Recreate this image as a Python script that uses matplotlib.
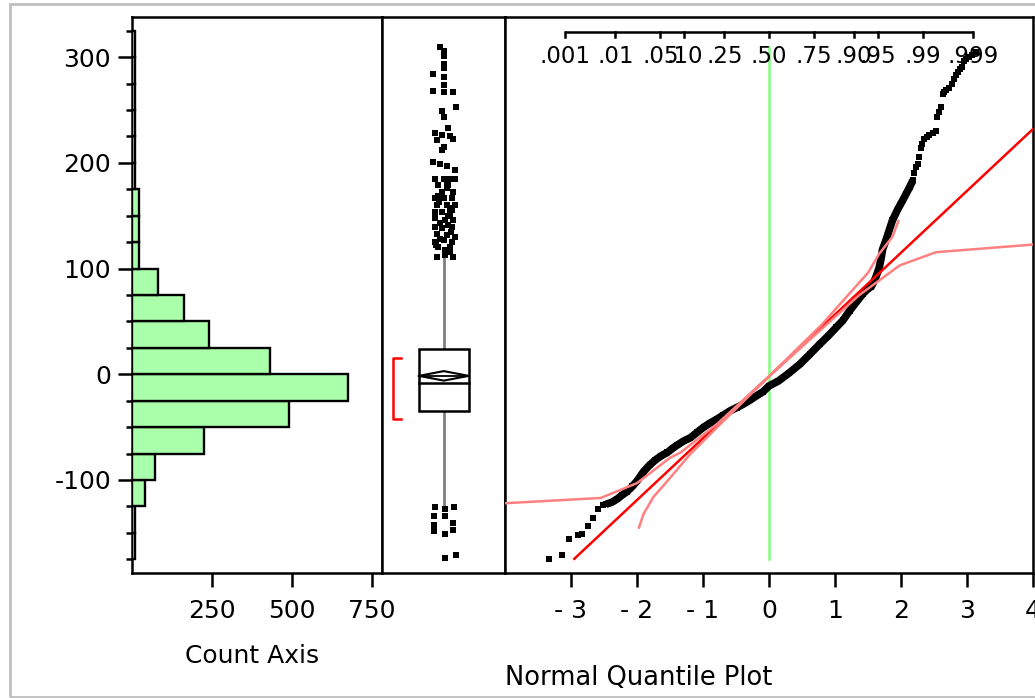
import numpy as np
import matplotlib
matplotlib.use("Agg")
import matplotlib.pyplot as plt
from matplotlib.patches import Rectangle
from matplotlib.ticker import MultipleLocator
import matplotlib.transforms as mtransforms
from statistics import NormalDist

plt.rcParams['font.family'] = ['DejaVu Sans']

# ---------------- data ----------------
# histogram (bin width 25)
bin_lefts = [-175, -150, -125, -100, -75, -50, -25, 0, 25, 50, 75, 100, 125, 150,
             175, 200, 225, 250, 275, 300]
bin_counts = [8, 10, 41, 73, 225, 491, 676, 432, 241, 163, 80, 23, 23, 23,
              10, 9, 9, 8, 8, 8]
bin_width = 25
count_ticks = [250, 500, 750]
y_major = [-100, 0, 100, 200, 300]
y_labels = ['-100', '0', '100', '200', '300']

# box plot summary
q1, q3, median = -35, 24, -8
mean, mean_ci = -1.5, 4.5
whisk_lo, whisk_hi = -124, 111
short_half = (-42, 15)

# outliers: values and horizontal jitter
out_vals = [310, 306, 301, 294, 290, 284, 281, 274, 268, 267, 267.5, 253, 249, 243, 233,
            228, 226, 225, 222, 223, 215, 212, 200.5, 198.6, 197.3, 193,
            185, 185, 185, 185, 179, 179, 172.7, 172.7, 166.4, 166.4, 166.4,
            160, 160, 160, 153.7, 153.7, 152, 147.4, 145.8, 145.8, 139.5, 139.5, 138,
            133, 131.6, 130, 125.3, 125.3, 126.8, 120.6, 120.6, 111, 111, 112.6, 115.8,
            176, 169, 157, 150, 143, 135, 128, 118, 182, 163, 155, 141, 122,
            -125.6, -127.7, -125.6, -134.3, -134.3, -142.3, -140.8, -148.7, -151.4,
            -147.4, -174, -171.3]
out_jit = [-0.057, 0.0, 0.0, 0.013, 0.013, -0.166, 0.013, 0.013, -0.166, 0.013, 0.16, 0.203,
           -0.02, 0.013, 0.078, -0.138, -0.029, 0.106, -0.11, 0.16, 0.0, -0.029, -0.166,
           -0.057, 0.052, 0.187, -0.138, 0.0, 0.106, 0.187, -0.085, 0.078, -0.029, 0.16,
           -0.138, 0.0, 0.133, -0.11, 0.052, 0.187, -0.138, -0.029, 0.106, -0.138, 0.024,
           0.16, -0.138, 0.133, -0.029, -0.11, 0.052, 0.187, -0.138, 0.133, 0.0, -0.085,
           0.106, -0.11, 0.16, 0.024, 0.106,
           0.05, -0.09, 0.1, 0.07, -0.06, 0.12, -0.05, 0.03, 0.05, -0.07, 0.14, 0.08, -0.12,
           -0.138, 0.024, 0.176, -0.149, 0.024, -0.149, 0.16, -0.149, 0.024, 0.16,
           0.024, 0.203]

# normal quantile plot points (normal quantile, value)
qq_z = [-3.33, -3.13, -3.03, -2.90, -2.83, -2.75, -2.66, -2.59, -2.52, -2.47,
        -2.38, -2.30, -2.22, -2.15, -2.07, -2.00, -1.90, -1.81, -1.72, -1.63, -1.54,
        -1.46, -1.39, -1.29, -1.19, -1.09, -0.99, -0.89, -0.79, -0.69, -0.59, -0.49,
        -0.39, -0.29, -0.19, -0.09, 0.00, 0.14, 0.30, 0.47, 0.62, 0.77, 0.90, 1.02,
        1.12, 1.22, 1.32, 1.42, 1.50, 1.55, 1.60, 1.62, 1.67, 1.70, 1.72, 1.77, 1.82,
        1.87, 1.95, 2.03, 2.08, 2.13, 2.18,
        2.20, 2.23, 2.25, 2.27, 2.30, 2.32, 2.35, 2.39, 2.43, 2.48, 2.53, 2.55, 2.57,
        2.60, 2.63, 2.65, 2.68, 2.72, 2.78, 2.80, 2.83, 2.86, 2.90, 2.93,
        2.96, 2.99, 3.03, 3.08, 3.13]
qq_v = [-175, -171, -156, -152, -151, -144, -136, -127, -124, -123,
        -121, -118, -114, -111, -106, -101, -92, -86, -81, -77, -74,
        -70, -67, -63, -60, -55, -50, -46, -42.5, -38.5, -34.6, -31.5,
        -28.3, -24.5, -20.4, -16.5, -11, -6.5, 1, 9.7, 19, 28.6, 36.5, 44.4,
        51, 60, 68, 76, 81, 83, 89, 92, 101, 110, 118, 126.5, 136,
        145.5, 156, 165, 171, 177, 183.4,
        190, 196, 199, 206, 214, 218, 223, 224.5, 226, 228, 230, 243, 248,
        253, 265, 267, 269, 271, 275, 279, 283, 286, 289, 291,
        296, 298, 300, 302, 305]

# normal fit line
fit_mu, fit_sigma = -2, 58.5
fit_z_start = -2.95

# confidence band curves
bandA_z = [-4.0, -2.55, -2.0, -1.5, -1.34, -0.79, 0.0, 0.8, 1.37, 1.98, 2.53, 4.0]
bandA_v = [-122, -117, -103, -79, -74, -47.2, -2, 43, 75, 103, 115.5, 122.7]
bandB_z = [-1.97, -1.9, -1.75, -1.54, -1.2, -0.8, 0.0, 0.8, 1.17, 1.5, 1.67, 1.87, 1.96]
bandB_v = [-145, -132, -116, -101, -76, -51, -2, 47, 73, 96, 114, 130, 145]

prob_labels = ['.001', '.01', '.05', '.10', '.25', '.50', '.75', '.90', '.95', '.99', '.999']
z_ticks = [-3, -2, -1, 0, 1, 2, 3, 4]
z_labels = ['- 3', '- 2', '- 1', '0', '1', '2', '3', '4']

# ---------------- layout ----------------
W, H = 1035, 698
fig = plt.figure(figsize=(W / 100, H / 100), dpi=100)


def rect(x0, x1, y0=17, y1=573):
    return [x0 / W, 1 - y1 / H, (x1 - x0) / W, (y1 - y0) / H]


YLIM = (-188, 338)
ax_h = fig.add_axes(rect(132, 382))
ax_b = fig.add_axes(rect(382, 505))
ax_q = fig.add_axes(rect(505, 1033))

LW = 1.8
for ax in (ax_h, ax_b, ax_q):
    ax.set_ylim(*YLIM)
    for s in ax.spines.values():
        s.set_linewidth(LW)
        s.set_color('black')

FS = 18
# ---- histogram ----
ax_h.barh(bin_lefts, bin_counts, height=bin_width, align='edge', color='#aaffaa',
          edgecolor='black', linewidth=1.7, zorder=3)
ax_h.set_xlim(0, 781)
ax_h.set_xticks(count_ticks)
ax_h.set_xticklabels([str(c) for c in count_ticks], fontsize=FS)
ax_h.set_yticks(y_major)
ax_h.set_yticklabels(y_labels, fontsize=FS)
ax_h.yaxis.set_minor_locator(MultipleLocator(25))
ax_h.tick_params(axis='y', which='major', length=10, width=LW, pad=5)
ax_h.tick_params(axis='y', which='minor', length=4.5, width=LW)
ax_h.tick_params(axis='x', which='major', length=10, width=LW, pad=9)

# ---- box plot ----
ax_b.set_xlim(-1, 1)
ax_b.set_xticks([])
ax_b.set_yticks([])
ax_b.plot([0, 0], [q3, whisk_hi], color='#808080', lw=2, zorder=1)
ax_b.plot([0, 0], [q1, whisk_lo], color='#808080', lw=2, zorder=1)
ax_b.add_patch(Rectangle((-0.40, q1), 0.81, q3 - q1, facecolor='white',
                         edgecolor='black', lw=LW, zorder=2))
ax_b.plot([-0.40, 0.41], [median, median], color='black', lw=LW, zorder=3)
ax_b.plot([-0.40, 0.005, 0.41, 0.005, -0.40],
          [mean, mean + mean_ci, mean, mean - mean_ci, mean], color='black', lw=1.5, zorder=3)
ax_b.plot([-0.40, 0.41], [mean, mean], color='black', lw=1.3, zorder=3)
ax_b.plot([-0.69, -0.82, -0.82, -0.69],
          [short_half[1], short_half[1], short_half[0], short_half[0]],
          color='#ff0000', lw=1.8, zorder=3)
ax_b.plot(out_jit, out_vals, linestyle='none', marker='s', ms=4.3, color='black',
          markeredgewidth=0, zorder=4)

# ---- normal quantile plot ----
ax_q.set_xlim(-4, 4)
ax_q.set_yticks([])
ax_q.set_xticks(z_ticks)
ax_q.set_xticklabels(z_labels, fontsize=FS)
ax_q.tick_params(axis='x', length=10, width=LW, pad=9)

ax_q.plot([0, 0], [min(qq_v), max(out_vals)], color='#80ff80', lw=1.8, zorder=1)
zz = np.array([fit_z_start, 4.0])
ax_q.plot(zz, fit_mu + fit_sigma * zz, color='#ff0000', lw=1.8, zorder=3)
ax_q.plot(bandA_z, bandA_v, color='#ff8080', lw=1.8, zorder=3)
ax_q.plot(bandB_z, bandB_v, color='#ff8080', lw=1.8, zorder=3)

qz = np.array(qq_z)
qv = np.array(qq_v)
dense = (qz >= -2.47) & (qz <= 2.18)
ax_q.plot(qz[dense], qv[dense], color='black', lw=5.5, solid_capstyle='butt', zorder=2)
ax_q.plot(qz, qv, linestyle='none', marker='s', ms=4.6, color='black',
          markeredgewidth=0, zorder=2)

# probability scale inside the panel
blend = mtransforms.blended_transform_factory(ax_q.transData, ax_q.transAxes)
nd = NormalDist()
pz = [nd.inv_cdf(float(p)) for p in prob_labels]
y_line = 1 - 15 / 556
y_tick = 1 - 20 / 556
y_lab = 1 - 46 / 556
ax_q.plot([pz[0], pz[-1]], [y_line, y_line], color='black', lw=LW, transform=blend,
          solid_capstyle='butt', zorder=1)
for z, lab in zip(pz, prob_labels):
    ax_q.plot([z, z], [y_line, y_tick], color='black', lw=LW, transform=blend, zorder=1)
    ax_q.text(z, y_lab, lab, transform=blend, ha='center', va='baseline', fontsize=16.5,
              zorder=1)

# axis titles
fig.text(252 / W, 1 - 663 / H, 'Count Axis', ha='center', va='baseline', fontsize=18)
fig.text(505 / W, 1 - 685 / H, 'Normal Quantile Plot', ha='left', va='baseline', fontsize=18.5)

# outer light-grey frame
fig.add_artist(Rectangle((10 / W, 1 - 697 / H), 1.2, (697 - 4) / H, transform=fig.transFigure,
                         fill=False, edgecolor='#c0c0c0', lw=2))

fig.savefig('out.png', dpi=100)
